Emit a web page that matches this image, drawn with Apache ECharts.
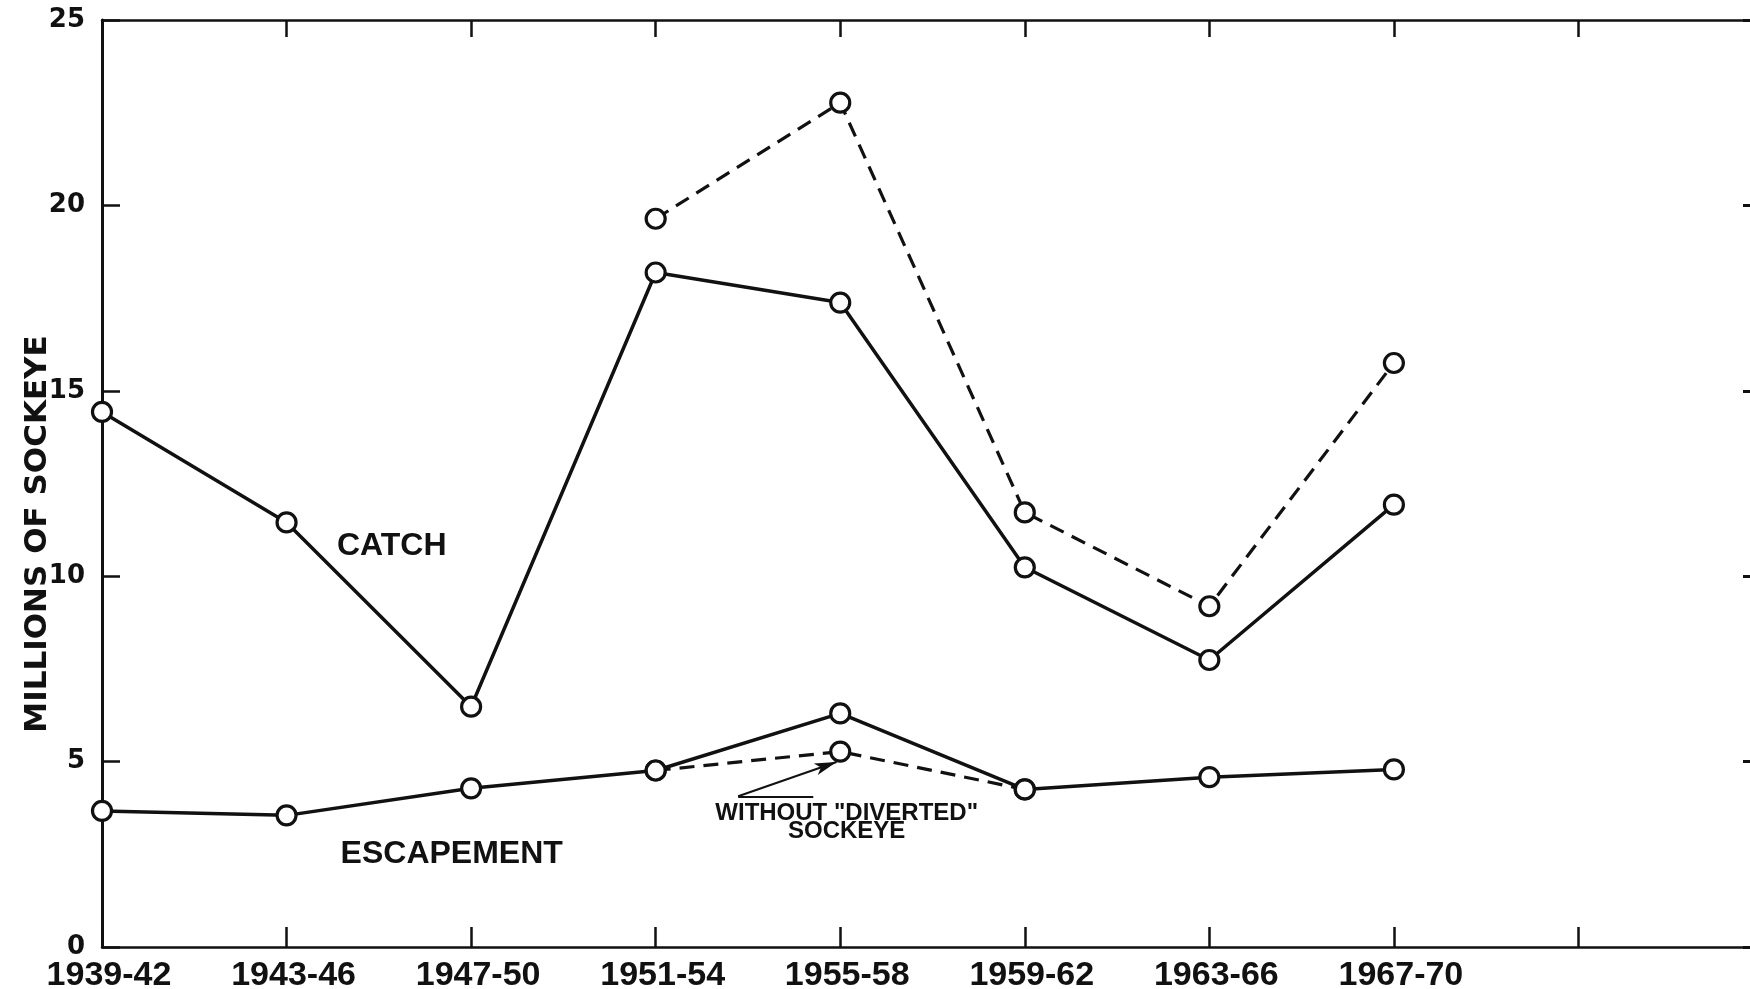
<!DOCTYPE html>
<html>
<head>
<meta charset="utf-8">
<script src="https://cdn.jsdelivr.net/npm/echarts@6/dist/echarts.min.js"></script>
<style>
  html, body { margin: 0; padding: 0; background: #fff; }
  #chart { width: 1750px; height: 989px; }
</style>
</head>
<body>
<div id="chart"></div>
<script>
// Four-year periods on the horizontal axis
const periods = ['1939-42', '1943-46', '1947-50', '1951-54', '1955-58', '1959-62', '1963-66', '1967-70'];

// Millions of sockeye per period
const catchTotal = [14.43, 11.45, 6.48, 18.19, 17.38, 10.24, 7.74, 11.93];
const catchWithDiverted = [null, null, null, 19.64, 22.77, 11.72, 9.19, 15.75];
const escapement = [3.67, 3.55, 4.28, 4.76, 6.30, 4.25, 4.58, 4.79];
const escapementWithoutDiverted = [null, null, null, 4.76, 5.27, 4.25, null, null];

// Vertical axis ticks
const yTicks = [0, 5, 10, 15, 20, 25];

// Text labels and the pointer line, placed in data units
const catchLabelAt = [1.57, 10.82];
const escapementLabelAt = [1.895, 2.51];
const noteAt = [4.035, 3.36];
const pointerFrom = [3.447, 4.065];
const pointerElbow = [3.854, 4.065];
const pointerTip = [3.98, 4.99];

const INK = '#111';

function pairs(values) {
  return values.map((v, i) => (v == null ? null : [i, v])).filter(Boolean);
}

const chart = echarts.init(document.getElementById('chart'), null, { renderer: 'canvas' });

function frameLine(width) {
  return { show: true, onZero: false, lineStyle: { color: INK, width: width } };
}

const markerStyle = { color: '#fff', borderColor: INK, borderWidth: 3.2, opacity: 1 };

function lineSeries(name, values, dashed, z) {
  return {
    type: 'line',
    name: name,
    data: pairs(values),
    symbol: 'circle',
    symbolSize: 19,
    showAllSymbol: true,
    itemStyle: markerStyle,
    lineStyle: { color: INK, width: dashed ? 3.2 : 3.5, type: dashed ? [15, 9] : 'solid' },
    emphasis: { disabled: true },
    silent: true,
    z: z
  };
}

const escDashed = lineSeries('Escapement without diverted sockeye', escapementWithoutDiverted, true, 2);
escDashed.markLine = {
  silent: true,
  symbol: ['none', 'arrow'],
  symbolSize: [9, 22],
  lineStyle: { type: 'solid', color: INK, width: 2 },
  label: { show: false },
  emphasis: { disabled: true },
  data: [
    [{ coord: pointerFrom }, { coord: pointerTip }],
    [{ coord: pointerFrom, symbol: 'none' }, { coord: pointerElbow, symbol: 'none' }]
  ]
};

chart.setOption({
  animation: false,
  backgroundColor: '#fff',
  grid: {
    left: 102, top: 20, right: -13, bottom: 42,
    containLabel: false,
    outerBoundsMode: 'none'
  },
  xAxis: [
    {
      type: 'value', position: 'bottom', min: 0, max: 9, interval: 1,
      axisLine: frameLine(2.5),
      axisTick: { show: true, inside: true, length: 20, lineStyle: { color: INK, width: 2.5 } },
      axisLabel: {
        formatter: v => periods[v] || '',
        margin: 12, color: INK, padding: [0, 0, 0, 14],
        fontFamily: 'Liberation Sans', fontWeight: 'bold', fontSize: 34
      },
      splitLine: { show: false }
    },
    {
      type: 'value', position: 'top', min: 0, max: 9, interval: 1,
      axisLine: frameLine(2.5),
      axisTick: { show: true, inside: true, length: 17, lineStyle: { color: INK, width: 2.5 } },
      axisLabel: { show: false },
      splitLine: { show: false }
    }
  ],
  yAxis: [
    {
      type: 'value', position: 'left',
      min: yTicks[0], max: yTicks[yTicks.length - 1], interval: yTicks[1] - yTicks[0],
      axisLine: frameLine(3),
      axisTick: { show: true, inside: true, length: 18, lineStyle: { color: INK, width: 2.5 } },
      axisLabel: {
        margin: 17, color: INK,
        fontFamily: 'DejaVu Sans', fontWeight: 'bold', fontSize: 26
      },
      splitLine: { show: false }
    },
    {
      type: 'value', position: 'right',
      min: yTicks[0], max: yTicks[yTicks.length - 1], interval: yTicks[1] - yTicks[0],
      axisLine: frameLine(2.5),
      axisTick: { show: true, inside: true, length: 20, lineStyle: { color: INK, width: 3 } },
      axisLabel: { show: false },
      splitLine: { show: false }
    }
  ],
  series: [
    lineSeries('Catch including diverted sockeye', catchWithDiverted, true, 2),
    escDashed,
    lineSeries('Catch', catchTotal, false, 3),
    lineSeries('Escapement', escapement, false, 3)
  ]
});

function px(pt) {
  return chart.convertToPixel({ xAxisIndex: 0, yAxisIndex: 0 }, pt);
}

function textEl(pos, text, font, extra) {
  return Object.assign({
    type: 'text',
    x: pos[0], y: pos[1],
    silent: true,
    z: 10,
    style: {
      text: text,
      font: font,
      fill: INK,
      align: 'center', verticalAlign: 'middle',
      textAlign: 'center', textVerticalAlign: 'middle'
    }
  }, extra || {});
}

const catchPos = px(catchLabelAt);
const escPos = px(escapementLabelAt);
const notePos = px(noteAt);

const noteEl = textEl(notePos, 'WITHOUT "DIVERTED"\nSOCKEYE', 'bold 24px "Liberation Sans"');
noteEl.style.lineHeight = 18;

chart.setOption({
  graphic: [
    textEl([37.5, 534], 'MILLIONS OF SOCKEYE', 'bold 31px "DejaVu Sans"', { rotation: Math.PI / 2 }),
    textEl(catchPos, 'CATCH', 'bold 32px "Liberation Sans"'),
    textEl(escPos, 'ESCAPEMENT', 'bold 32px "Liberation Sans"'),
    noteEl
  ]
});
</script>
</body>
</html>
